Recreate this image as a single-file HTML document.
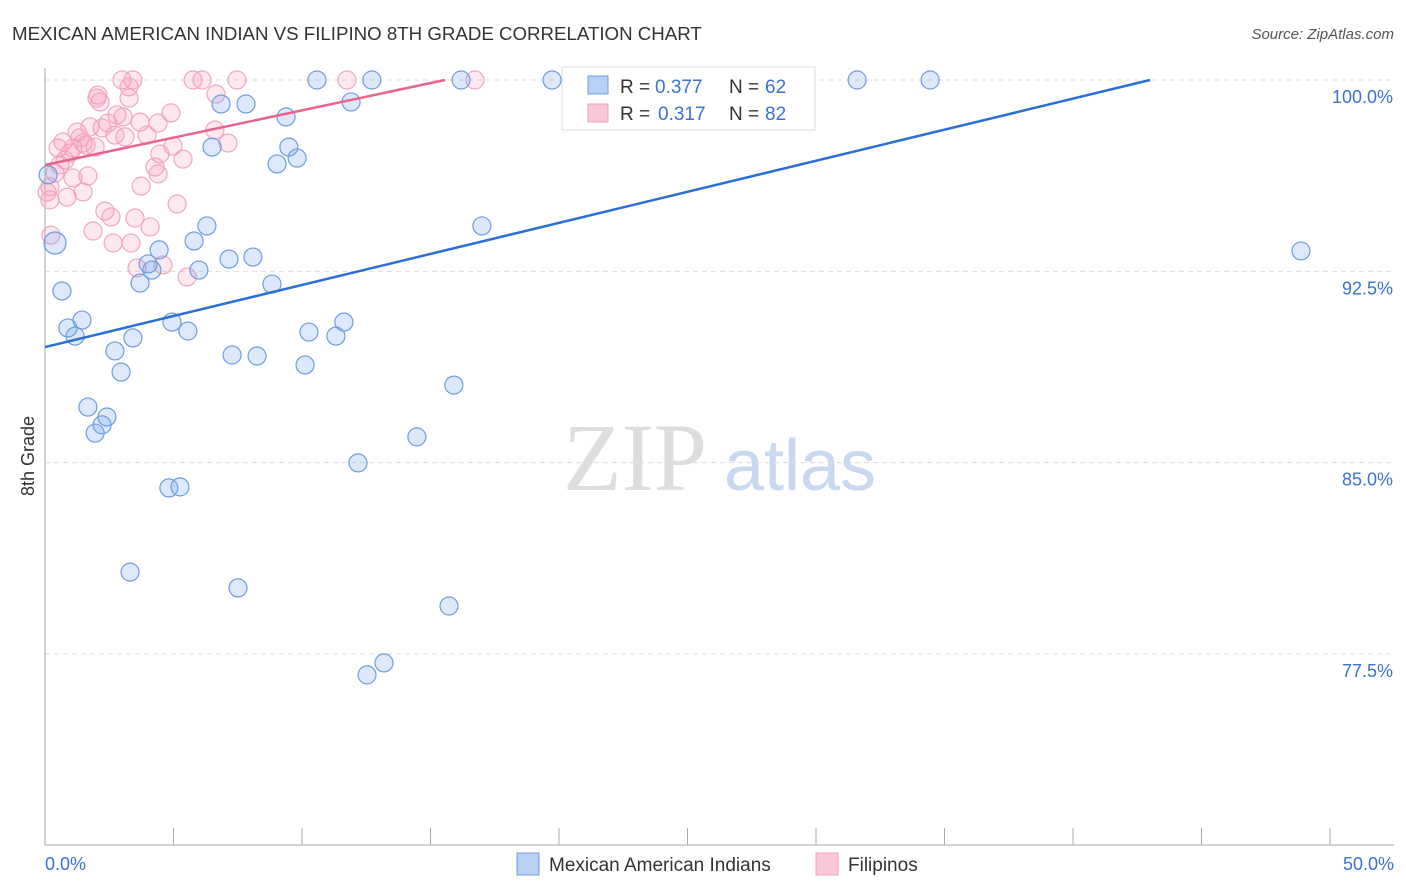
<!DOCTYPE html>
<html><head><meta charset="utf-8"><style>
body{margin:0;background:#fff;font-family:"Liberation Sans",sans-serif;}
svg{display:block}
</style></head><body>
<svg id="chart" width="1406" height="892">
<text x="12" y="40" font-size="18.7" fill="#333">MEXICAN AMERICAN INDIAN VS FILIPINO 8TH GRADE CORRELATION CHART</text>
<text x="1394" y="39" font-size="15" fill="#555" font-style="italic" text-anchor="end">Source: ZipAtlas.com</text>
<g>
<text x="635" y="490" font-size="96" fill="#ddd" font-family="Liberation Serif,serif" text-anchor="middle">ZIP</text>
<text x="800" y="490" font-size="72" fill="#c8d8f0" text-anchor="middle">atlas</text>
</g>
<g id="grid"></g>
<g id="axes"></g>
<g id="pts"></g>
<g id="lines"></g>
<text transform="translate(34,456) rotate(-90)" font-size="18" fill="#333" text-anchor="middle">8th Grade</text>
<g>
<rect x="562" y="67" width="253" height="63" fill="#fff" stroke="#ddd"/>
<rect x="588" y="76" width="20" height="18" fill="#b8d0f5" stroke="#6c9de0"/>
<text x="620" y="93" font-size="19" fill="#333">R =</text>
<text x="655" y="93" font-size="19" fill="#3a72d0">0.377</text>
<text x="729" y="93" font-size="19" fill="#333">N =</text>
<text x="765" y="93" font-size="19" fill="#3a72d0">62</text>
<rect x="588" y="104" width="20" height="18" fill="#f8c8d6" stroke="#f0a0b8"/>
<text x="620" y="120" font-size="19" fill="#333">R =</text>
<text x="658" y="120" font-size="19" fill="#3a72d0">0.317</text>
<text x="729" y="120" font-size="19" fill="#333">N =</text>
<text x="765" y="120" font-size="19" fill="#3a72d0">82</text>
</g>
<g>
<rect x="517" y="853" width="22" height="22" fill="#b8d0f5" stroke="#6c9de0"/>
<text x="549" y="871" font-size="19" fill="#333">Mexican American Indians</text>
<rect x="816" y="853" width="22" height="22" fill="#f8c8d6" stroke="#f0a0b8"/>
<text x="848" y="871" font-size="19" fill="#333">Filipinos</text>
</g>
</svg>
<script>
const blueX=[.39,.66,.89,1.17,1.44,1.67,1.95,2.22,2.41,2.72,2.96,3.31,3.42,3.70,4.01,4.16,4.44,4.82,5.25,4.94,5.56,5.80,5.99,6.30,6.50,6.85,7.16,7.28,7.51,7.82,8.09,8.25,8.83,9.03,9.38,9.49,9.81,10.12,10.27,10.58,11.32,11.63,11.91,12.18,12.53,12.72,13.19,14.47,15.72,15.91,16.19,17.00,19.73,26.19,29.30,31.60,34.44,48.87,.12];
const blueY=[93.61,91.73,90.28,89.96,90.59,87.18,86.16,86.48,86.79,89.38,88.55,80.71,89.89,92.04,92.79,92.55,93.34,84.01,84.05,90.51,90.16,93.69,92.55,94.28,97.37,99.06,92.98,89.22,80.09,99.06,93.06,89.18,92.00,96.71,98.55,97.37,96.94,88.83,90.12,100,89.96,90.51,99.14,84.99,76.68,100,77.15,86.01,79.38,88.04,100,94.28,100,100,100,100,100,93.30,96.28];
const pinkX=[3.00,3.42,3.27,3.27,2.06,2.14,2.02,5.76,6.11,7.47,11.75,16.73,6.65,4.90,4.40,3.70,2.80,3.04,2.45,3.97,3.11,2.72,2.22,1.75,1.25,.70,.51,1.09,1.48,1.95,.97,6.61,7.12,4.98,4.47,5.37,4.28,4.40,1.67,1.09,.39,.19,.19,.86,1.48,3.74,5.14,2.33,2.57,3.50,4.09,1.87,2.65,3.35,.23,3.58,4.59,5.53,1.60,1.36,.78,.58,.08];
const pinkY=[100,100,99.73,99.29,99.41,99.14,99.29,100,100,100,100,100,99.45,98.71,98.31,98.35,98.63,98.55,98.31,97.84,97.77,97.84,98.12,98.16,97.96,97.57,97.33,97.33,97.53,97.37,97.14,98.04,97.53,97.41,97.10,96.90,96.59,96.32,96.24,96.16,96.35,95.81,95.30,95.41,95.61,95.84,95.14,94.86,94.63,94.59,94.24,94.08,93.61,93.61,93.92,92.63,92.75,92.28,97.45,97.73,96.86,96.67,95.6];
const yTicks=[100,92.5,85,77.5];
const yTickLabels=["100.0%","92.5%","85.0%","77.5%"];
const blueFit=[89.53,0.2435];
const pinkFit=[96.67,0.214];
const NS="http://www.w3.org/2000/svg";
const sx=v=>45+v*25.7, sy=v=>80+(100-v)*25.51;
function mk(t,a,p){const e=document.createElementNS(NS,t);for(const k in a)e.setAttribute(k,a[k]);p.appendChild(e);return e;}
const grid=document.getElementById('grid'),axes=document.getElementById('axes'),pts=document.getElementById('pts'),lines=document.getElementById('lines');
yTicks.forEach((t,i)=>{
 const l=mk('line',{x1:45,x2:1394,y1:sy(t),y2:sy(t),stroke:'#ddd','stroke-dasharray':'5,4'},grid);
 
 
 const tx=mk('text',{x:1393,y:sy(t)+23,'font-size':18,fill:'#3a72d0','text-anchor':'end'},axes);
 tx.textContent=yTickLabels[i];
 
 
});
let a=mk('line',{x1:45,x2:45,y1:68,y2:845,stroke:'#aaa'},axes);


a=mk('line',{x1:45,x2:1394,y1:845,y2:845,stroke:'#aaa'},axes);


for(let i=0;i<=10;i++){const t=mk('line',{x1:sx(i*5),x2:sx(i*5),y1:828,y2:845,stroke:'#aaa'},axes);
 
 }
let t0=mk('text',{x:45,y:870,'font-size':18,fill:'#3a72d0'},axes);t0.textContent='0.0%';


t0=mk('text',{x:1394,y:870,'font-size':18,fill:'#3a72d0','text-anchor':'end'},axes);t0.textContent='50.0%';


pinkX.forEach((x,i)=>{const c=mk('circle',{cx:sx(x),cy:sy(pinkY[i]),r:9,fill:'rgba(244,150,180,0.22)',stroke:'#f2a6be','stroke-width':1.2},pts);
 
 });
blueX.forEach((x,i)=>{const c=mk('circle',{cx:sx(x),cy:sy(blueY[i]),r:i==0?11:9,fill:'rgba(120,165,235,0.25)',stroke:'#6c9de0','stroke-width':1.2},pts);
 
 });
function fit(f,col,name){const xe=(100-f[0])/f[1];
 const l=mk('line',{x1:sx(0),y1:sy(f[0]),x2:sx(xe),y2:sy(100),stroke:col,'stroke-width':2.5},lines);
 
 }
fit(blueFit,'#2a6fd6','trendline-mexican');
fit(pinkFit,'#e8648e','trendline-filipino');
</script>
</body></html>
